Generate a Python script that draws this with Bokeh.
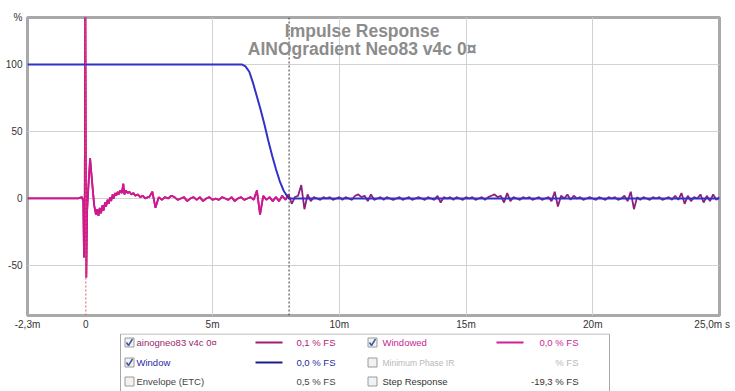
import numpy as np
from bokeh.plotting import figure
from bokeh.layouts import column
from bokeh.models import Range1d, FixedTicker, Span, Label
from bokeh.core.properties import value
from bokeh.embed import file_html
from bokeh.resources import INLINE

FONT = "Liberation Sans"

# ---------------- data (time in ms, level in %) ----------------
ir_early_t = [-2.3, -0.3, -0.15, -0.1, -0.07, -0.04, -0.02, 0.0, 0.02, 0.05,
              0.1, 0.17, 0.25, 0.33, 0.4, 0.45, 0.5, 0.55, 0.6, 0.66,
              0.7, 0.76, 0.8, 0.86, 0.9, 0.96, 1.0, 1.06, 1.1, 1.16,
              1.2, 1.26, 1.3, 1.36, 1.42, 1.48, 1.52, 1.58, 1.65, 1.72,
              1.8, 1.88, 1.95, 2.05, 2.15, 2.25, 2.35, 2.45]
ir_early_v = [0, 0, 1, -2, -44, 5, 165, 40, -59, -10,
              8, 30, 12, -5, -12, -8, -13, -7, -11, -5,
              -9, -3, -6, -1, -4, 1, -2, 3, 0, 4,
              2, 5, 3, 6, 4, 11, 3, 6, 4, 5,
              3, 4, 2, 3, 1, 2, 0, 1]
# tail samples, every 0.125 ms from 2.5 ms to 25 ms
ir_tail_v = [1, 5, -7, 1, -1, 1, 0, 2,
             1, -1, 0, 1, -2, 0, 1, -1,
             1, -2, 0, 1, -1, 0, -1, 1,
             0, -1, 1, -2, 0, 1, -1, 0,
             1, -1, 6, -12, 2, -1, 1, -2,
             1, -2, 2, -1, 3, -4, 1, 2,
             10, -8, 3, -2, 1, 0, -1, 1,
             0, 1, -1, 0, 1, -1, 1, 0,
             -1, 2, 3, 1, 2, -2, 3, -1,
             0, 1, -1, 1, 0, -1, 0, 1,
             -1, 0, 1, -1, 0, 1, 0, -1,
             1, 0, -1, 2, -3, 1, 0, 1,
             -1, 1, 0, -1, 1, 0, 1, -1,
             0, 1, -1, 1, 2, 3, 1, 2,
             -3, 4, -2, 1, 0, -1, 1, 0,
             1, -1, 0, 1, -1, 0, 1, -2,
             5, -6, 2, 0, 3, -1, 2, 0,
             1, -1, 0, 1, 0, -1, 1, 0,
             -1, 1, 0, 1, -1, 0, 2, -2,
             5, -8, 1, -1, 1, 0, -1, 1,
             0, 1, -1, 0, 1, -1, 2, -1,
             4, -4, 2, -2, 1, 0, 3, -3,
             2, -2, 3, -1, 1]
ir_tail_t = list(np.linspace(2.5, 25.0, len(ir_tail_v)))
ir_t = ir_early_t + ir_tail_t
ir_v = ir_early_v + ir_tail_v

window_end = 8.02
win_t = [-2.3, 6.15, 6.3, 6.45, 6.6, 6.75, 6.9, 7.05, 7.2, 7.35, 7.5, 7.65, 7.8, 7.95, 8.02, 25.0]
win_v = [100, 100, 98.5, 94.5, 86, 76, 66, 55, 43, 32, 22, 13, 6, 1.5, 0, 0]

wd_t = [t for t in ir_t if t <= window_end]
wd_v = [v for t, v in zip(ir_t, ir_v) if t <= window_end]

x_ticks = [-2.3, 0, 5, 10, 15, 20, 25]
x_tick_labels = ["-2,3m", "0", "5m", "10m", "15m", "20m", "25,0m s\u00a0\u00a0"]
y_ticks = [-50, 0, 50, 100, 134.9]
y_tick_labels = ["-50", "0", "50", "100", "%"]
y_grid = [-50, 0, 50, 100]

legend_names = ["ainogneo83 v4c 0¤", "Window", "Envelope (ETC)",
                "Windowed", "Minimum Phase IR", "Step Response"]
legend_values = ["0,1 % FS", "0,0 % FS", "0,5 % FS",
                 "0,0 % FS", "% FS", "-19,3 % FS"]
legend_checked = [True, True, False, True, False, False]
legend_name_colors = ["#9a1f6a", "#2a2aa8", "#444444", "#c81f8f", "#b8b8b8", "#333333"]
legend_val_colors = ["#b5206f", "#2a2aa8", "#444444", "#c81f8f", "#b8b8b8", "#333333"]
legend_line_colors = ["#a01e6c", "#1e1e88", None, "#d21f9c", None, None]

IR_COLOR = "#8e1f7e"
WD_COLOR = "#d4178f"
WIN_COLOR = "#3232c6"

# ---------------- main chart ----------------
p = figure(width=735, height=333, x_range=Range1d(-2.3, 25), y_range=Range1d(-87.3, 135),
           output_backend="svg", toolbar_location=None,
           min_border_left=27, min_border_right=16, min_border_top=17, min_border_bottom=18)
p.background_fill_color = "white"
p.border_fill_color = "white"
p.outline_line_color = "#a9a9a9"
p.outline_line_width = 3

p.xaxis.ticker = FixedTicker(ticks=x_ticks)
p.xaxis.major_label_overrides = {t: l for t, l in zip(x_ticks, x_tick_labels)}
p.yaxis.ticker = FixedTicker(ticks=y_ticks)
p.yaxis.major_label_overrides = {t: l for t, l in zip(y_ticks, y_tick_labels)}
for ax in (p.xaxis, p.yaxis):
    ax.axis_line_color = None
    ax.major_tick_line_color = None
    ax.minor_tick_line_color = None
    ax.major_tick_out = 0
    ax.major_tick_in = 0
    ax.minor_tick_out = 0
    ax.minor_tick_in = 0
    ax.major_label_text_font = FONT
    ax.major_label_text_font_size = "10px"
    ax.major_label_text_color = "#333333"
p.xaxis.major_label_standoff = 3
p.yaxis.major_label_standoff = 5

p.xgrid.ticker = FixedTicker(ticks=[5, 10, 15, 20])
p.ygrid.ticker = FixedTicker(ticks=y_grid)
p.grid.grid_line_color = "#d2d2d2"
p.grid.grid_line_width = 1

p.add_layout(Span(location=0, dimension="height", line_color="#e06060",
                  line_dash="2 2", line_width=1))
p.add_layout(Span(location=window_end, dimension="height", line_color="#333333",
                  line_dash="2 2", line_width=1))

p.line(ir_t, ir_v, line_color=IR_COLOR, line_width=1.8)
p.line(wd_t, wd_v, line_color=WD_COLOR, line_width=1.8)
p.line(win_t, win_v, line_color=WIN_COLOR, line_width=2)

for txt, yv in (("Impulse Response", 125.2), ("AINOgradient Neo83 v4c 0¤", 111.4)):
    p.add_layout(Label(x=10.9, y=yv, text=txt, text_align="center", text_baseline="middle",
                       text_font=FONT, text_font_size="17.5px", text_font_style="bold",
                       text_color="#8c8c8c"))

# ---------------- legend panel ----------------
lp = figure(width=735, height=58, x_range=Range1d(27, 719), y_range=Range1d(391, 333),
            output_backend="svg", toolbar_location=None,
            x_axis_location=None, y_axis_location=None,
            min_border_left=27, min_border_right=16, min_border_top=0, min_border_bottom=0)
lp.outline_line_color = None
lp.grid.visible = False
lp.background_fill_color = "white"
lp.border_fill_color = "white"

lp.quad(left=[120], right=[609], top=[333.5], bottom=[400], fill_color="white",
        line_color="#a8a8a8", line_width=1)

row_y = [342, 362, 381]
col_box_x = [129, 372]
col_name_x = [136, 382]
col_line_x = [(255, 282), (496, 523)]
col_val_x = [335, 578]

for i in range(6):
    c, r = divmod(i, 3)
    y = row_y[r]
    bx = col_box_x[c]
    lp.rect([bx], [y], width=9, height=9, fill_color="#f2f2f2", line_color="#9a9a9a")
    if legend_checked[i]:
        lp.line([bx - 3, bx - 1, bx + 3], [y, y + 3, y - 3.5], line_color="#3b5b9b", line_width=1.5)
    fs = "8.5px" if legend_names[i] == "Minimum Phase IR" else "9.5px"
    lp.text([col_name_x[c]], [y], text=[legend_names[i]], text_color=legend_name_colors[i],
            text_font=value(FONT), text_font_size=fs, text_baseline="middle", text_align="left")
    if legend_line_colors[i]:
        x0, x1 = col_line_x[c]
        lp.line([x0, x1], [y, y], line_color=legend_line_colors[i], line_width=2)
    lp.text([col_val_x[c]], [y], text=[legend_values[i]], text_color=legend_val_colors[i],
            text_font=value(FONT), text_font_size="9.5px", text_baseline="middle", text_align="right")

layout = column(p, lp, spacing=0)
open("out.html", "w").write(file_html(layout, INLINE))
